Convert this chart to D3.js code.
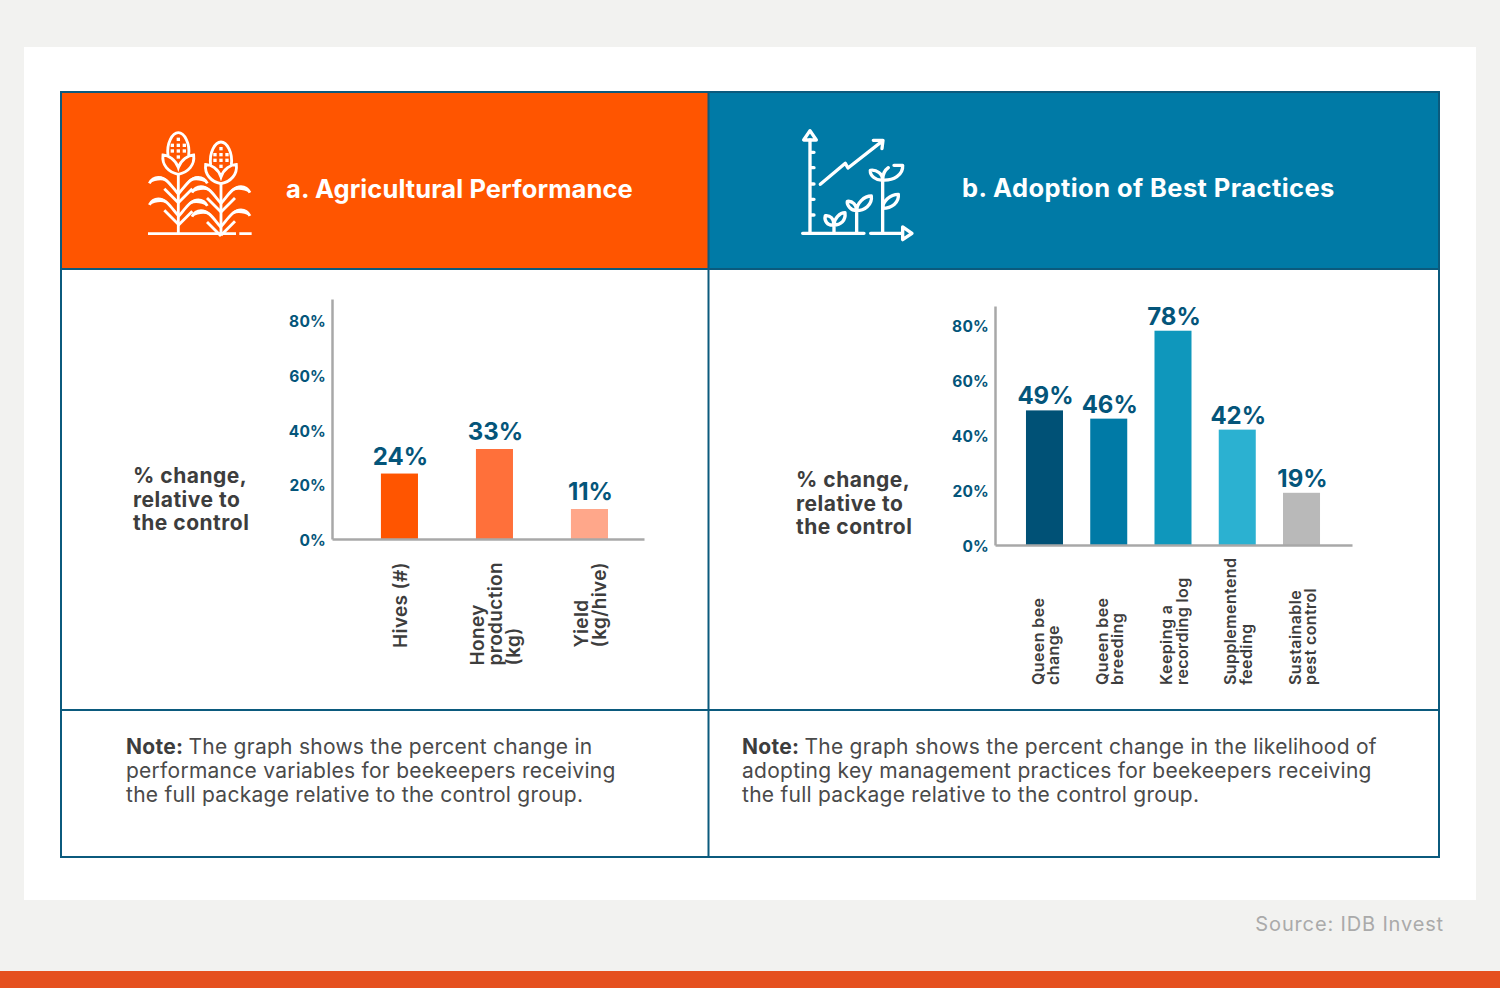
<!DOCTYPE html>
<html>
<head>
<meta charset="utf-8">
<script src="https://cdn.jsdelivr.net/npm/d3@7"></script>
<style>
  html, body { margin: 0; padding: 0; background: #f2f2f0; }
  svg { display: block; font-family: Inter, "Open Sans", sans-serif; }
</style>
</head>
<body>
<svg id="chart" width="1500" height="988"></svg>
<script>
// chart values
const perfCategories = [['Hives (#)'], ['Honey', 'production', '(kg)'], ['Yield', '(kg/hive)']];
const perfValues = [24, 33, 11];
const perfColors = ['#ff5500', '#ff703a', '#ffa78a'];

const bestCategories = [['Queen bee', 'change'], ['Queen bee', 'breeding'], ['Keeping a', 'recording log'],
  ['Supplementend', 'feeding'], ['Sustainable', 'pest control']];
const bestValues = [49, 46, 78, 42, 19];
const bestColors = ['#005176', '#007aa6', '#0f97bc', '#2bb1d1', '#b9b9b9'];

const yTicks = [0, 20, 40, 60, 80];
const yLabel = ['% change,', 'relative to', 'the control'];
const perfNote = ['The graph shows the percent change in', 'performance variables for beekeepers receiving', 'the full package relative to the control group.'];
const bestNote = ['The graph shows the percent change in the likelihood of', 'adopting key management practices for beekeepers receiving', 'the full package relative to the control group.'];

const navy = '#04557a';
const svg = d3.select('#chart');

// page frame
svg.append('rect').attr('width', 1500).attr('height', 988).attr('fill', '#f2f2f0');
svg.append('rect').attr('x', 24).attr('y', 47).attr('width', 1452).attr('height', 853).attr('fill', '#fff');
svg.append('rect').attr('y', 971).attr('width', 1500).attr('height', 17).attr('fill', '#e5501f');
svg.append('text').attr('x', 1444).attr('y', 931).attr('text-anchor', 'end')
    .attr('font-size', 20).attr('fill', '#aaaaaa').attr('letter-spacing', 0.85).text('Source: IDB Invest');

// table
svg.append('rect').attr('x', 61).attr('y', 92).attr('width', 647).attr('height', 177).attr('fill', '#ff5500');
svg.append('rect').attr('x', 708).attr('y', 92).attr('width', 731).attr('height', 177).attr('fill', '#007aa6');
svg.append('rect').attr('x', 61).attr('y', 92).attr('width', 1378).attr('height', 765)
    .attr('fill', 'none').attr('stroke', '#0b5a7d').attr('stroke-width', 2);
[[708.5, 92, 708.5, 857], [61, 269, 1439, 269], [61, 710, 1439, 710]].forEach(l => {
  svg.append('line').attr('x1', l[0]).attr('y1', l[1]).attr('x2', l[2]).attr('y2', l[3])
      .attr('stroke', '#0b5a7d').attr('stroke-width', 2);
});

svg.append('text').attr('x', 286).attr('y', 198).attr('fill', '#fff').attr('font-size', 25.5)
    .attr('font-weight', 700).attr('letter-spacing', 0.1).text('a. Agricultural Performance');
svg.append('text').attr('x', 962).attr('y', 197).attr('fill', '#fff').attr('font-size', 25.5)
    .attr('font-weight', 700).attr('letter-spacing', 0.42).text('b. Adoption of Best Practices');

// corn icon, drawn in 3x units
function drawCorn(g, cx, top, leaves) {
  const p = g.append('g').attr('transform', `translate(${cx},${top})`);
  p.append('path').attr('d', 'M-31,72 C-36,35 -18,3 0,3 C18,3 36,35 31,72');
  p.append('path').attr('d', 'M0,128 C-30,122 -50,100 -46,70 C-30,70 -8,84 0,108 C8,84 30,70 46,70 C50,100 30,122 0,128 Z');
  [[0, 23], [-18, 41], [0, 41], [18, 41], [-18, 58], [0, 58], [18, 58], [0, 76]].forEach(d => {
    p.append('rect').attr('x', d[0] - 5).attr('y', d[1] - 5).attr('width', 10).attr('height', 10)
        .attr('fill', '#fff').attr('stroke', 'none');
  });
  leaves.forEach(l => {
    const leaf = g.append('g').attr('transform', `translate(${cx},${l[0]}) scale(${l[1]},1)`);
    leaf.append('path').attr('d', 'M0,-8 C-20,-30 -35,-58 -60,-58 C-72,-58 -82,-50 -87,-40');
    leaf.append('path').attr('fill', '#fff').attr('stroke', 'none')
        .attr('d', 'M-87,-40 C-70,-66 -40,-68 -25,-40 C-40,-52 -65,-52 -87,-40 Z');
    leaf.append('path').attr('d', 'M0,18 L-42,-24');
  });
  g.append('line').attr('x1', cx).attr('x2', cx).attr('y1', top + 128).attr('y2', 430);
}
const cornIcon = svg.append('g').attr('transform', 'translate(60,90) scale(0.3333)')
    .attr('fill', 'none').attr('stroke', '#fff').attr('stroke-width', 8.5);
drawCorn(cornIcon, 355, 125, [[320, 1], [320, -1], [385, 1], [388, -1]]);
drawCorn(cornIcon, 483, 153, [[348, 1], [348, -1], [420, 1], [418, -1]]);
cornIcon.append('path').attr('d', 'M264,431 H528 M538,431 H575');

// growth icon, drawn in 3x units
const growthIcon = svg.append('g').attr('transform', 'translate(710,90) scale(0.3333)')
    .attr('fill', 'none').attr('stroke', '#fff').attr('stroke-width', 10)
    .attr('stroke-linecap', 'round').attr('stroke-linejoin', 'round');
growthIcon.append('path').attr('d', 'M300,150 V430 M300,187 H312 M300,233 H312 M300,282 H312 M300,328 H312 M300,375 H312');
growthIcon.append('path').attr('d', 'M300,122 L281,150 H319 Z');
growthIcon.append('path').attr('d', 'M278,430 H462 M482,430 H575');
growthIcon.append('path').attr('d', 'M578,411 L606,430 L578,449 Z');
growthIcon.append('path').attr('d', 'M331,283 L406,220 L414,234 L515,155 M490,151 H519 L516,176');
growthIcon.append('path').attr('d', 'M372,430 V405 C352,408 342,392 346,377 C360,375 372,385 372,405 C372,385 390,368 405,368 C408,392 392,405 372,405');
growthIcon.append('path').attr('d', 'M440,430 V362 C422,362 410,345 412,334 C428,332 440,345 440,362 C440,340 462,318 484,318 C488,345 462,362 440,362');
growthIcon.append('path').attr('d', 'M518,430 V270 C498,272 480,258 481,241 C500,238 518,252 518,270 C518,255 525,240 535,233 M518,270 C550,272 580,255 578,226 H552');
growthIcon.append('path').attr('d', 'M518,355 C518,335 540,313 565,313 C568,338 545,355 518,355');

// one bar panel
function drawPanel(cfg) {
  const g = svg.append('g');
  const y = d3.scaleLinear().domain([0, cfg.yMax]).range([cfg.y0, cfg.yTop]);
  const x = d3.scaleBand().domain(cfg.categories.map((d, i) => i)).range(cfg.xRange)
      .paddingInner(cfg.inner).paddingOuter(cfg.outer).align(cfg.align);

  g.selectAll('rect.bar').data(cfg.values).enter().append('rect').attr('class', 'bar')
      .attr('x', (d, i) => x(i))
      .attr('y', d => y(d))
      .attr('width', x.bandwidth())
      .attr('height', d => y(0) - y(d))
      .attr('fill', (d, i) => cfg.colors[i]);

  g.selectAll('text.value').data(cfg.values).enter().append('text').attr('class', 'value')
      .attr('x', (d, i) => x(i) + x.bandwidth() / 2 + 1)
      .attr('y', d => y(d) - cfg.valueGap)
      .attr('text-anchor', 'middle').attr('font-size', 24).attr('font-weight', 700)
      .attr('fill', navy).text(d => d + '%');

  const yAxis = g.append('g').attr('transform', `translate(${cfg.xRange[0]},0)`)
      .call(d3.axisLeft(y).tickValues(yTicks).tickFormat(d => d + '%').tickSize(0).tickPadding(6));
  const xAxis = g.append('g').attr('transform', `translate(0,${cfg.y0})`)
      .call(d3.axisBottom(x).tickSize(0).tickFormat(''));
  [yAxis, xAxis].forEach(a => a.select('.domain').attr('stroke', '#a8a8a8').attr('stroke-width', 2.5));
  yAxis.selectAll('text').attr('font-family', 'Inter').attr('font-size', 15.5)
      .attr('font-weight', 700).attr('fill', navy).attr('letter-spacing', 0.2)
      .attr('y', 1.2);

  // rotated category labels, lines read bottom to top
  xAxis.selectAll('.tick').each(function (i) {
    const lines = cfg.categories[i];
    const label = d3.select(this).append('text').attr('fill', '#3d3d3d').attr('font-family', 'Inter')
        .attr('font-size', cfg.labelSize).attr('font-weight', 600)
        .attr('letter-spacing', cfg.labelSpacing).attr('text-anchor', 'start');
    const dy = (j) => (j - (lines.length - 1) / 2) * cfg.labelStep + cfg.labelSize * 0.36 + 1;
    label.selectAll('tspan').data(lines).enter().append('tspan')
        .attr('x', 0).attr('y', (d, j) => dy(j)).text(d => d);
    const longest = d3.max(label.selectAll('tspan').nodes(), n => n.getComputedTextLength());
    const start = cfg.labelBottom !== undefined ? cfg.labelBottom : cfg.labelTop + longest;
    label.attr('transform', `translate(0,${start - cfg.y0}) rotate(-90)`);
  });

  // side label
  g.append('text').attr('fill', '#3d3d3d').attr('font-size', 21).attr('font-weight', 700)
      .attr('letter-spacing', 0.5)
      .selectAll('tspan').data(yLabel).enter().append('tspan')
      .attr('x', cfg.sideX).attr('y', (d, i) => cfg.sideY + i * 23.5).text(d => d);

  // note
  const note = g.append('text').attr('font-size', 21).attr('fill', '#4a4a4a').attr('letter-spacing', 0.26);
  note.append('tspan').attr('x', cfg.noteX).attr('y', 754).attr('font-weight', 700).attr('fill', '#3d3d3d').text('Note: ');
  note.append('tspan').text(cfg.note[0]);
  note.selectAll('tspan.more').data(cfg.note.slice(1)).enter().append('tspan').attr('class', 'more')
      .attr('x', cfg.noteX).attr('y', (d, i) => 778 + i * 24).text(d => d);
}

drawPanel({
  categories: perfCategories, values: perfValues, colors: perfColors, note: perfNote,
  y0: 539, yTop: 299, yMax: 88, xRange: [332, 644], inner: 0.61, outer: 0.447, align: 0.576,
  valueGap: 9, labelSize: 19, labelStep: 18, labelSpacing: 0.35, labelTop: 562, sideX: 133, sideY: 483, noteX: 126
});
drawPanel({
  categories: bestCategories, values: bestValues, colors: bestColors, note: bestNote,
  y0: 545, yTop: 306, yMax: 87, xRange: [995, 1352], inner: 0.424, outer: 0.49, align: 0.492,
  valueGap: 6, labelSize: 16, labelStep: 15.5, labelSpacing: 0.4, labelBottom: 685, sideX: 796, sideY: 487, noteX: 742
});
</script>
</body>
</html>
